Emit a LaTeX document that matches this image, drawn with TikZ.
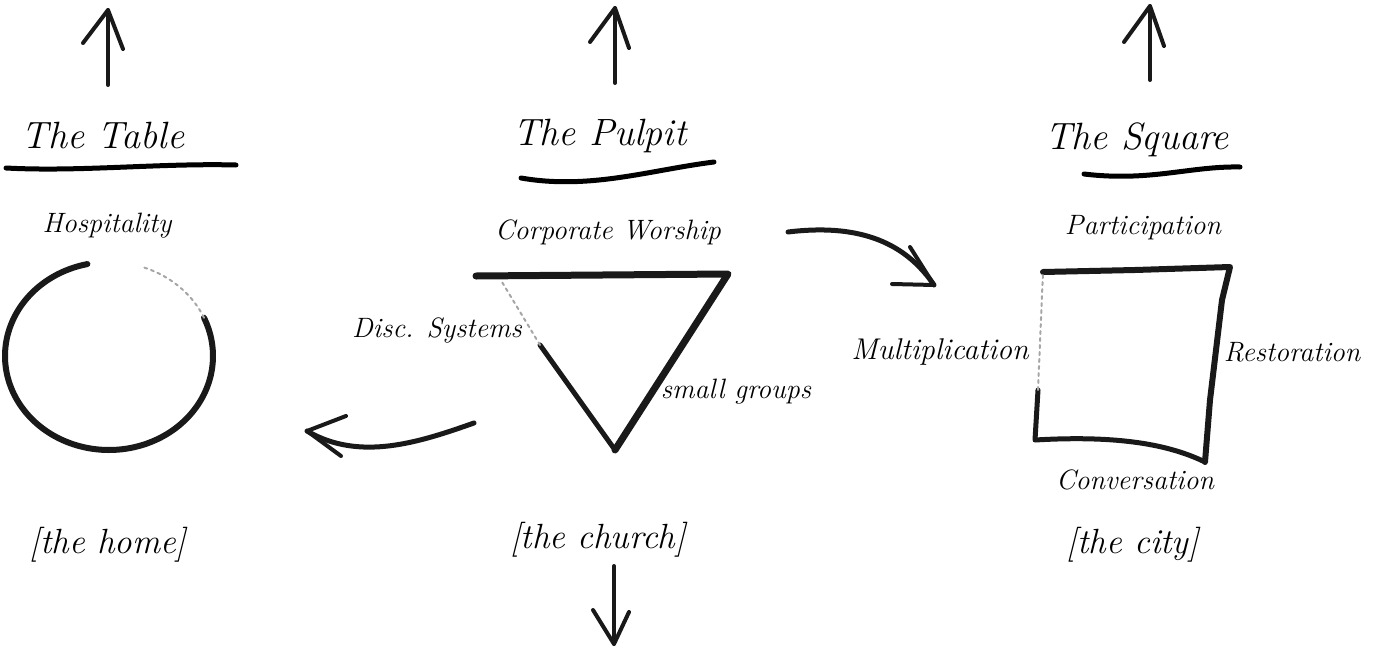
\documentclass[tikz,border=0pt]{standalone}
\usepackage{fontspec}
\setmainfont{Latin Modern Roman}
\begin{document}
\begin{tikzpicture}[x=1pt,y=-1pt,
  brush/.style={line width=6pt,line cap=round,line join=round,black!90},
  thinbrush/.style={line width=4pt,line cap=round,line join=round,black!90},
  faint/.style={line width=2pt,line cap=round,black!35,dash pattern=on 3pt off 4pt},
  ttl/.style={font=\fontsize{38}{40}\selectfont\itshape,inner sep=0pt},
  lbl/.style={font=\fontsize{28}{30}\selectfont\itshape,inner sep=0pt},
  place/.style={font=\fontsize{35}{37}\selectfont\itshape,inner sep=0pt}]
\useasboundingbox (0,0) rectangle (1379,648);
% up arrows
\coordinate (t1a) at (108,85); \coordinate (t1b) at (108,10);
\coordinate (t2a) at (615,83); \coordinate (t2b) at (615,8);
\coordinate (t3a) at (1150,80); \coordinate (t3b) at (1150,6);
\draw[thinbrush] (t1a) -- (t1b); \draw[thinbrush] (83,43) -- (t1b) -- (123,49);
\draw[thinbrush] (t2a) -- (t2b); \draw[thinbrush] (590,42) -- (t2b) -- (629,48);
\draw[thinbrush] (t3a) -- (t3b); \draw[thinbrush] (1124,42) -- (t3b) -- (1164,46);
% titles
\node[ttl] (table) at (103,136) {The Table};
\node[ttl] (pulpit) at (600,136) {The Pulpit};
\node[ttl] (square) at (1137,140) {The Square};
\draw[line width=5pt,line cap=round] (6,168) .. controls (80,172) and (160,163) .. (236,165);
\draw[line width=5pt,line cap=round] (521,178) .. controls (590,190) and (650,170) .. (714,162);
\draw[line width=5pt,line cap=round] (1084,174) .. controls (1150,182) and (1190,166) .. (1240,167);
% labels
\node[lbl] (hosp) at (107,226) {Hospitality};
\node[lbl] (corp) at (608,232) {Corporate Worship};
\node[lbl] (part) at (1143,228) {Participation};
\node[lbl] (disc) at (437,330) {Disc. Systems};
\node[lbl] (small) at (736,392) {small groups};
\node[lbl,font=\fontsize{30}{32}\selectfont\itshape] (mult) at (940,352) {Multiplication};
\node[lbl] (rest) at (1292,352) {Restoration};
\node[lbl] (conv) at (1135,480) {Conversation};
\node[place] (home) at (108,545) {[the home]};
\node[place] (church) at (598,540) {[the church]};
\node[place] (city) at (1133,545) {[the city]};
% circle
\draw[brush] plot[domain=258:-24,samples=80,smooth] ({109+104*cos(\x)},{356+94*sin(\x)});
\draw[faint] plot[domain=-24:-72,samples=30,smooth] ({109+104*cos(\x)},{356+94*sin(\x)});
% triangle
\coordinate (tl) at (476,276); \coordinate (tr) at (728,274); \coordinate (tb) at (615,450);
\draw[brush,line width=7pt] (tl) -- (tr) -- (tb);
\draw[brush,line width=5pt] (tb) -- (540,345);
\draw[faint] (540,345) -- (502,282);
% square
\coordinate (sq1) at (1043,272); \coordinate (sq2) at (1230,267);
\coordinate (sq3) at (1205,462); \coordinate (sq4) at (1035,440);
\draw[brush] (sq1) -- (1135,270) -- (sq2) -- (1222,300) -- (1210,400) -- (sq3);
\draw[brush,line width=5pt] (sq3) .. controls (1170,445) and (1120,435) .. (sq4) -- (1038,390);
\draw[faint] (1038,390) -- (sq1);
% curved arrows
\coordinate (la) at (474,423); \coordinate (lb) at (307,431);
\draw[brush,line width=5pt] (la) .. controls (420,442) and (360,462) .. (lb);
\draw[brush,line width=4pt] (346,416) -- (lb) -- (341,456);
\coordinate (ra) at (788,232); \coordinate (rb) at (934,285);
\draw[brush,line width=5pt] (ra) .. controls (870,222) and (910,250) .. (rb);
\draw[brush,line width=4pt] (910,247) -- (rb) -- (892,284);
% down arrow
\coordinate (da) at (614,566); \coordinate (db) at (614,644);
\draw[thinbrush] (da) -- (db); \draw[thinbrush] (593,610) -- (db) -- (629,612);
\end{tikzpicture}
\end{document}
